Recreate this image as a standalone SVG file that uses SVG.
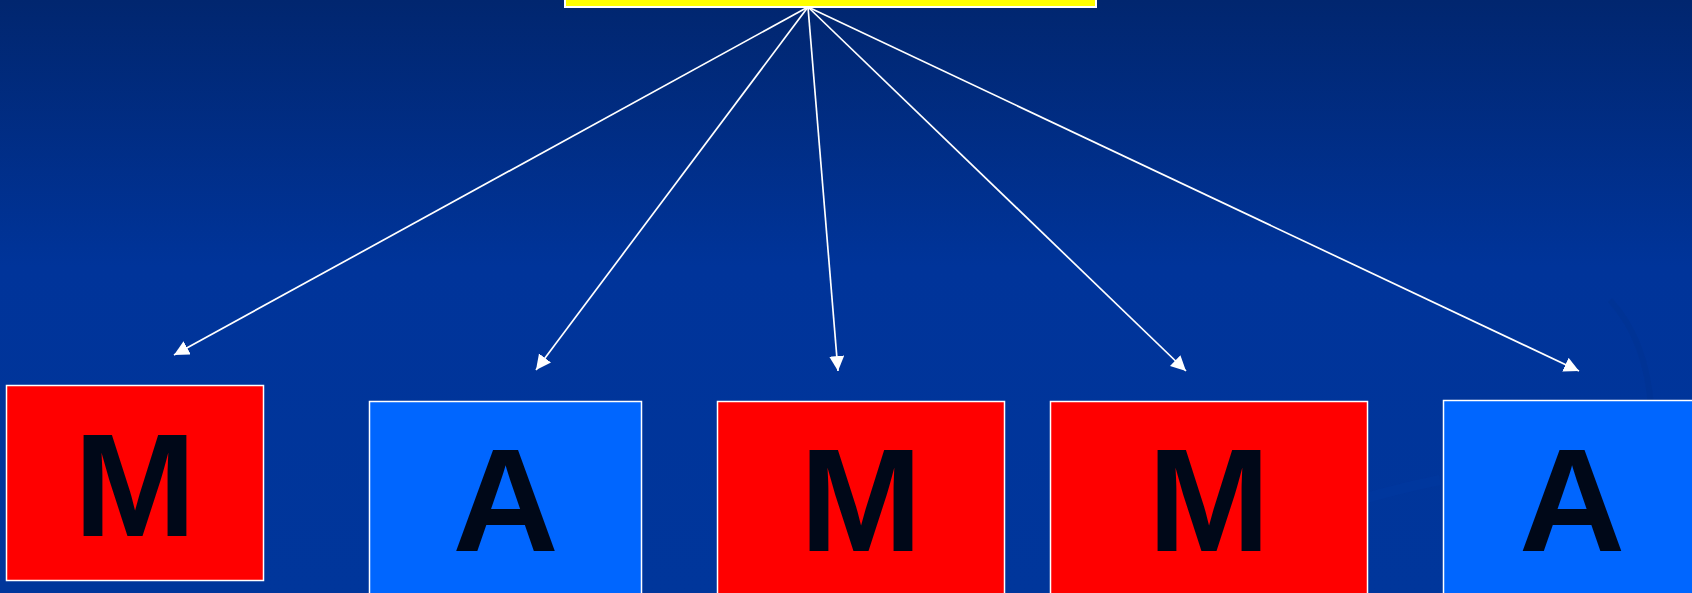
<svg xmlns="http://www.w3.org/2000/svg" width="1692" height="593" viewBox="0 0 1692 593">
  <defs>
    <linearGradient id="bg" x1="0" y1="0" x2="0" y2="1">
      <stop offset="0" stop-color="#01266f"/>
      <stop offset="0.45" stop-color="#00349a"/>
      <stop offset="1" stop-color="#00369b"/>
    </linearGradient>
    <marker id="arrow" markerUnits="userSpaceOnUse" markerWidth="16" markerHeight="16" viewBox="0 0 16 16" refX="15" refY="7.5" orient="auto">
      <path d="M0,0 L15,7.5 L0,15 z" fill="#ffffff"/>
    </marker>
    <style>
      .box { stroke: #ffffff; stroke-width: 1.5; }
      .red { fill: #ff0000; }
      .blue { fill: #0066ff; }
      .lbl { font-family: "Liberation Sans", Arial, sans-serif; font-weight: bold; font-size: 147px; fill: #000818; text-anchor: middle; }
      .conn { stroke: #ffffff; stroke-width: 1.7; fill: none; marker-end: url(#arrow); }
    </style>
  </defs>
  <rect x="0" y="0" width="1692" height="593" fill="url(#bg)"/>
  <path d="M1610,300 C1665,360 1655,460 1640,520" stroke="#00318f" stroke-width="6" fill="none" opacity="0.4"/>
  <path d="M1300,520 C1340,505 1390,490 1440,480" stroke="#003aa6" stroke-width="10" fill="none" opacity="0.3"/>

  <g id="top">
    <rect x="565" y="-20" width="531" height="27" fill="#ffff00" stroke="#ffffff" stroke-width="2"/>
  </g>

  <g id="connectors">
    <line class="conn" x1="808" y1="7" x2="174" y2="355"/>
    <line class="conn" x1="808" y1="7" x2="536" y2="370"/>
    <line class="conn" x1="808" y1="7" x2="838" y2="371"/>
    <line class="conn" x1="808" y1="7" x2="1186" y2="371"/>
    <line class="conn" x1="808" y1="7" x2="1579" y2="371"/>
  </g>

  <g id="node1">
    <rect class="box red" x="6.5" y="385.5" width="257" height="195"/>
    <text class="lbl" x="135" y="536">M</text>
  </g>
  <g id="node2">
    <rect class="box blue" x="369.5" y="401.5" width="272" height="210"/>
    <text class="lbl" x="505.5" y="551">A</text>
  </g>
  <g id="node3">
    <rect class="box red" x="717.5" y="401.5" width="287" height="210"/>
    <text class="lbl" x="861" y="551">M</text>
  </g>
  <g id="node4">
    <rect class="box red" x="1050.5" y="401.5" width="317" height="210"/>
    <text class="lbl" x="1209" y="551">M</text>
  </g>
  <g id="node5">
    <rect class="box blue" x="1443.5" y="400.5" width="270" height="210"/>
    <text class="lbl" x="1572" y="551">A</text>
  </g>
</svg>
